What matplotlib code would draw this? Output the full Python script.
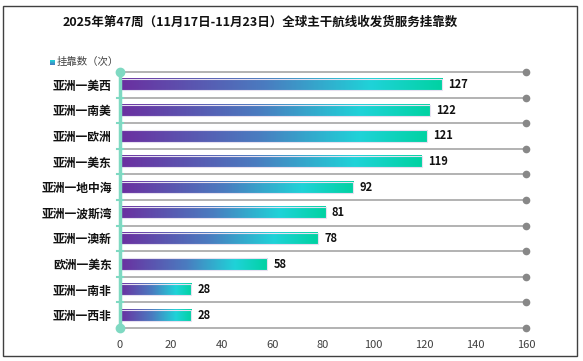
import matplotlib
matplotlib.use("Agg")
import matplotlib.pyplot as plt
import numpy as np
from matplotlib.colors import LinearSegmentedColormap
from matplotlib.patches import Rectangle

plt.rcParams['font.family'] = ['Noto Sans CJK SC', 'DejaVu Sans']

title = "2025年第47周（11月17日-11月23日）全球主干航线收发货服务挂靠数"
legend_label = "挂靠数（次）"
categories = ["亚洲一美西", "亚洲一南美", "亚洲一欧洲", "亚洲一美东", "亚洲一地中海",
              "亚洲一波斯湾", "亚洲一澳新", "欧洲一美东", "亚洲一南非", "亚洲一西非"]
values = [127, 122, 121, 119, 92, 81, 78, 58, 28, 28]
xticks = [0, 20, 40, 60, 80, 100, 120, 140, 160]

W, H = 583, 361
fig = plt.figure(figsize=(W / 100, H / 100), dpi=100)

# figure border
fig.patches.append(Rectangle((3 / W, 1 - 356 / H), 574 / W, 350 / H,
                             transform=fig.transFigure, fill=False,
                             edgecolor='#404040', linewidth=1.0))

ax = fig.add_axes([120 / W, 1 - 328 / H, 406 / W, 256 / H])
n = len(categories)

cmap = LinearSegmentedColormap.from_list(
    "grad", [(0.0, '#6b2fa0'), (0.45, '#4a7cc0'), (0.78, '#1fd3d8'), (1.0, '#00d2a2')])
grad = np.linspace(0, 1, 256).reshape(1, -1)

bh = 0.44
bars = ax.barh(range(n), values, height=bh, color='none', edgecolor='#e6e0f0',
               linewidth=0.8, zorder=3)
for i, (b, v) in enumerate(zip(bars, values)):
    ax.imshow(grad, cmap=cmap, aspect='auto', extent=[0, v, i + bh / 2, i - bh / 2],
              zorder=2, interpolation='bilinear')
    ax.text(v + 2.5, i, str(v), va='center', ha='left', fontsize=8,
            fontweight='bold', color='#111111', zorder=4)
ax.set_xlim(0, 160)
ax.set_ylim(n - 0.5, -0.5)

# grid lines at category boundaries with dots at right end
for k in range(n + 1):
    y = k - 0.5
    ax.plot([0, 160], [y, y], color='#a6a6a6', linewidth=1.2, zorder=1,
            clip_on=False)
    ax.plot([160], [y], marker='o', color='#888888', markersize=4.5,
            zorder=5, clip_on=False)
    ax.plot([-1.2, 1.2], [y, y], color='#7fd9c2', linewidth=1.5, zorder=6,
            clip_on=False)

# vertical axis line
ax.plot([0, 0], [-0.5, n - 0.5], color='#7fd9c2', linewidth=2.5, zorder=6,
        clip_on=False)
ax.plot([0, 0], [-0.5, n - 0.5], marker='o', linestyle='none', color='#7fd9c2',
        markersize=6, zorder=7, clip_on=False)

for s in ax.spines.values():
    s.set_visible(False)

ax.set_yticks(range(n))
ax.set_yticklabels(categories, fontsize=8.5, fontweight='bold', color='#111111')
ax.tick_params(axis='y', length=0, pad=6)
ax.set_xticks(xticks)
ax.set_xticklabels([str(t) for t in xticks], fontsize=8, color='#404040')
ax.tick_params(axis='x', length=0, pad=9)

fig.text(260 / W, 1 - 22 / H, title, ha='center', va='center', fontsize=9.0,
         fontweight='bold', color='#111111')

# legend
legax = fig.add_axes([50 / W, 1 - 65 / H, 5 / W, 5 / H])
legax.imshow(np.linspace(0, 1, 16).reshape(-1, 1)[::-1], cmap=LinearSegmentedColormap.from_list(
    'l', ['#4a7cc0', '#1fd3d8']), aspect='auto')
legax.axis('off')
fig.text(57 / W, 1 - 62 / H, legend_label, ha='left', va='center', fontsize=7.5,
         color='#404040')

fig.savefig("out.png", dpi=100)
